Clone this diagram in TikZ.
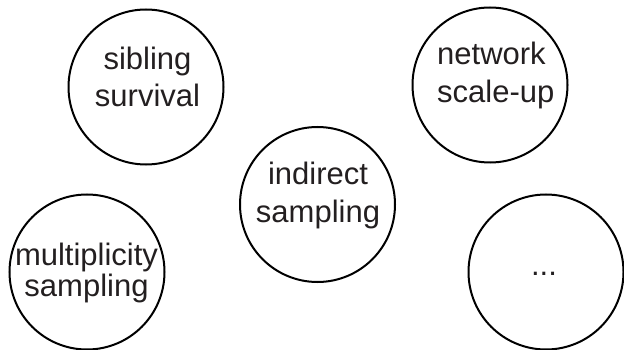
\documentclass[tikz,border=0pt]{standalone}
\usepackage{fontspec}
\setmainfont{Liberation Sans}
\definecolor{inkgray}{HTML}{231F20}
\newcommand{\twolines}[3]{{\fontsize{31}{#1}\selectfont\begin{tabular}[t]{@{}#2@{}}#3\end{tabular}}}
\begin{document}
\begin{tikzpicture}[x=1pt,y=-1pt,
  disc/.style={draw=black,line width=2pt,circle,minimum size=155pt,inner sep=0pt},
  lbl/.style={text=inkgray,inner sep=0pt,anchor=base,font=\fontsize{31}{37.5}\selectfont}]
\useasboundingbox (0,0) rectangle (624,350);
% the five methods
\node[disc] (sib) at (146,87) {};
\node[disc] (net) at (490,85) {};
\node[disc] (ind) at (317.5,204.5) {};
\node[disc] (mul) at (87,272) {};
\node[disc] (more) at (546,272) {};
% their names
\node[lbl] (sibT) at (147.5,69.3) {\twolines{37.4}{c}{sibling\\survival}};
\node[lbl,anchor=base west] (netT) at (437,64.3) {\twolines{38.4}{l}{network\\scale-up}};
\node[lbl] (indT) at (318,185) {\twolines{37.7}{c}{indirect\\sampling}};
\node[lbl] (mulT) at (86.5,265) {\twolines{31.7}{c}{multiplicity\\sampling}};
\node[lbl] (moreT) at (544,275) {...};
\end{tikzpicture}
\end{document}
